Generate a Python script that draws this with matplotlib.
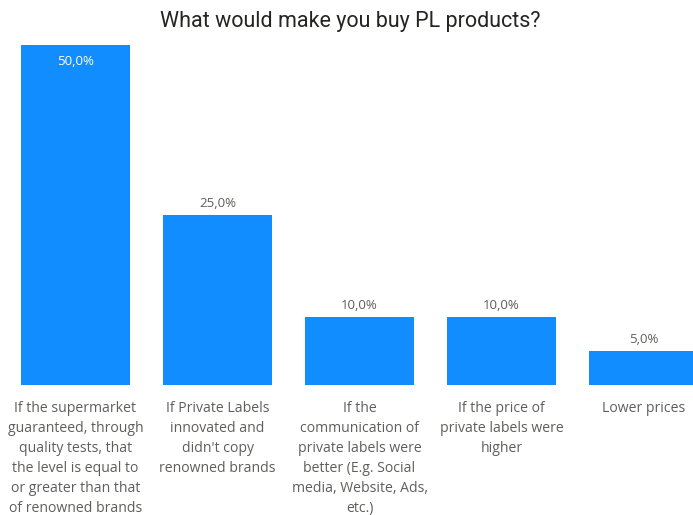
import numpy as np
import matplotlib.pyplot as plt

categories = [
    "If the supermarket\nguaranteed, through\nquality tests, that\nthe level is equal to\nor greater than that\nof renowned brands",
    "If Private Labels\ninnovated and\ndidn't copy\nrenowned brands",
    "If the\ncommunication of\nprivate labels were\nbetter (E.g. Social\nmedia, Website, Ads,\netc.)",
    "If the price of\nprivate labels were\nhigher",
    "Lower prices",
]
values = [50.0, 25.0, 10.0, 10.0, 5.0]

blue = '#118DFF'
gray = '#605E5C'

fig = plt.figure(figsize=(6.93, 5.15), dpi=100)
W, H = 693, 515
ax = fig.add_axes([4.5 / W, 130 / H, (W - 4.5) / W, 340 / H])

x = np.arange(len(values))
ax.bar(x, values, width=0.77, color=blue)
ax.set_xlim(-0.5, (W - 4.5) / 142 - 0.5)
ax.set_ylim(0, 50)
ax.axis('off')

for xi, v in zip(x, values):
    lab = f"{v:.1f}%".replace('.', ',')
    if v > 40:
        ax.text(xi, v - 1.4, lab, ha='center', va='top', color='white',
                fontsize=9.5, family='Open Sans')
    else:
        ax.text(xi, v + 0.7, lab, ha='center', va='bottom', color=gray,
                fontsize=9.5, family='Open Sans')

for xi, c in zip(x, categories):
    ax.text(xi, -2.3, c, ha='center', va='top', color=gray, fontsize=10.1,
            family='Open Sans', linespacing=1.46)

fig.text(350 / W, 1 - 21 / H, "What would make you buy PL products?",
         ha='center', va='center', fontsize=15.5, color='#252423', family='Roboto')

fig.savefig('out.png', dpi=100)
